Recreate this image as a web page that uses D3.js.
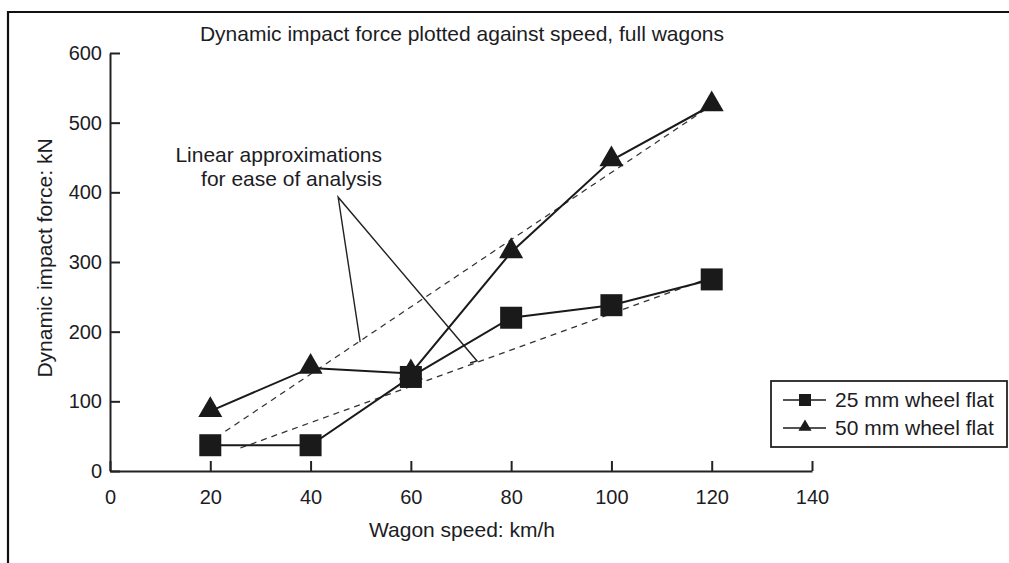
<!DOCTYPE html>
<html>
<head>
<meta charset="utf-8">
<script src="https://cdn.jsdelivr.net/npm/d3@7"></script>
<style>
  body { margin: 0; background: #fff; }
  svg text { font-family: "Liberation Sans", Arial, Helvetica, sans-serif; fill: #1c1c24; }
</style>
</head>
<body>
<svg width="1009" height="563"></svg>
<script>
// Data
const speeds = [20, 40, 60, 80, 100, 120];
const flat25 = [37, 37, 135, 220, 238, 275];
const flat50 = [86, 148, 140, 314, 446, 525];
// dashed linear approximations: [speed, force] end points
const approx25 = [[26, 33], [120, 278]];
const approx50 = [[23, 57], [120, 525]];
const xTicks = [0, 20, 40, 60, 80, 100, 120, 140];
const yTicks = [0, 100, 200, 300, 400, 500, 600];
const seriesNames = ["25 mm wheel flat", "50 mm wheel flat"];

const svg = d3.select("svg"), width = +svg.attr("width"),
    height = +svg.attr("height");

const x = d3.scaleLinear().domain([0, 140]).range([110, 812]);
const y = d3.scaleLinear().domain([0, 600]).range([471, 53]);

// frame (cropped on the right and bottom)
svg.append("path")
    .attr("d", "M8,563 L8,12 L1009,12")
    .attr("fill", "none")
    .attr("stroke", "#111")
    .attr("stroke-width", 2.2);

// axes, ticks pointing inwards
const xAxis = svg.append("g")
    .attr("transform", `translate(0,${y(0)})`)
    .call(d3.axisBottom(x).tickValues(xTicks).tickSizeInner(-10).tickSizeOuter(0));
const yAxis = svg.append("g")
    .attr("transform", `translate(${x(0)},0)`)
    .call(d3.axisLeft(y).tickValues(yTicks).tickSizeInner(-10).tickSizeOuter(0).tickPadding(9));

[xAxis, yAxis].forEach(a => {
    a.select(".domain").attr("stroke", "#222").attr("stroke-width", 2);
    a.selectAll(".tick line").attr("stroke", "#222").attr("stroke-width", 2);
    a.selectAll(".tick text").style("font-size", "20px").attr("fill", "#1c1c24");
});
yAxis.selectAll(".tick text").attr("x", -8);
xAxis.selectAll(".tick text").attr("dy", "0.35em").attr("y", 26);

// title and axis labels
svg.append("text")
    .attr("x", 462).attr("y", 41)
    .attr("text-anchor", "middle")
    .style("font-size", "21px")
    .text("Dynamic impact force plotted against speed, full wagons");

svg.append("text")
    .attr("x", 462).attr("y", 537)
    .attr("text-anchor", "middle")
    .style("font-size", "21px")
    .text("Wagon speed: km/h");

svg.append("text")
    .attr("transform", "translate(52,258) rotate(-90)")
    .attr("text-anchor", "middle")
    .style("font-size", "21px")
    .text("Dynamic impact force: kN");

// dashed approximations
const line = d3.line().x(d => x(d[0])).y(d => y(d[1]));
[approx25, approx50].forEach(a => {
    svg.append("path")
        .attr("d", line(a))
        .attr("fill", "none")
        .attr("stroke", "#333")
        .attr("stroke-width", 1.3)
        .attr("stroke-dasharray", "6,5");
});

// annotation pointer
const apex = [45.5, 393];
svg.append("path")
    .attr("d", line([[49.9, 185], apex, [73.2, 158], [71.8, 155]]))
    .attr("fill", "none")
    .attr("stroke", "#222")
    .attr("stroke-width", 1.4);

const note = svg.append("text")
    .attr("text-anchor", "end")
    .style("font-size", "21px");
note.append("tspan").attr("x", 382).attr("y", 162).text("Linear approximations");
note.append("tspan").attr("x", 382).attr("y", 186).text("for ease of analysis");

// measured series
const pts25 = speeds.map((s, i) => [s, flat25[i]]);
const pts50 = speeds.map((s, i) => [s, flat50[i]]);

[pts50, pts25].forEach(p => {
    svg.append("path")
        .attr("d", line(p))
        .attr("fill", "none")
        .attr("stroke", "#1a1a1a")
        .attr("stroke-width", 2);
});

const tri = d3.symbol().type(d3.symbolTriangle).size(250);
svg.append("g").selectAll("path")
    .data(pts50)
    .enter().append("path")
    .attr("d", tri)
    .attr("transform", d => `translate(${x(d[0])},${y(d[1]) - 1})`)
    .attr("fill", "#1a1a1a");

const sq = 22;
svg.append("g").selectAll("rect")
    .data(pts25)
    .enter().append("rect")
    .attr("x", d => x(d[0]) - sq / 2)
    .attr("y", d => y(d[1]) - sq / 2)
    .attr("width", sq)
    .attr("height", sq)
    .attr("fill", "#1a1a1a");

// legend
const lg = svg.append("g").attr("transform", "translate(771,381)");
lg.append("rect")
    .attr("width", 236).attr("height", 66)
    .attr("fill", "#fff")
    .attr("stroke", "#222")
    .attr("stroke-width", 1.8);

seriesNames.forEach((name, i) => {
    const row = lg.append("g").attr("transform", `translate(0,${19 + i * 28})`);
    row.append("line")
        .attr("x1", 12).attr("x2", 55)
        .attr("stroke", "#1a1a1a").attr("stroke-width", 1.6);
    if (i === 0) {
        row.append("rect").attr("x", 28).attr("y", -6).attr("width", 12).attr("height", 12).attr("fill", "#1a1a1a");
    } else {
        row.append("path").attr("d", d3.symbol().type(d3.symbolTriangle).size(75))
            .attr("transform", "translate(34,-1)").attr("fill", "#1a1a1a");
    }
    row.append("text")
        .attr("x", 64).attr("y", 7)
        .style("font-size", "21px")
        .text(name);
});
</script>
</body>
</html>
